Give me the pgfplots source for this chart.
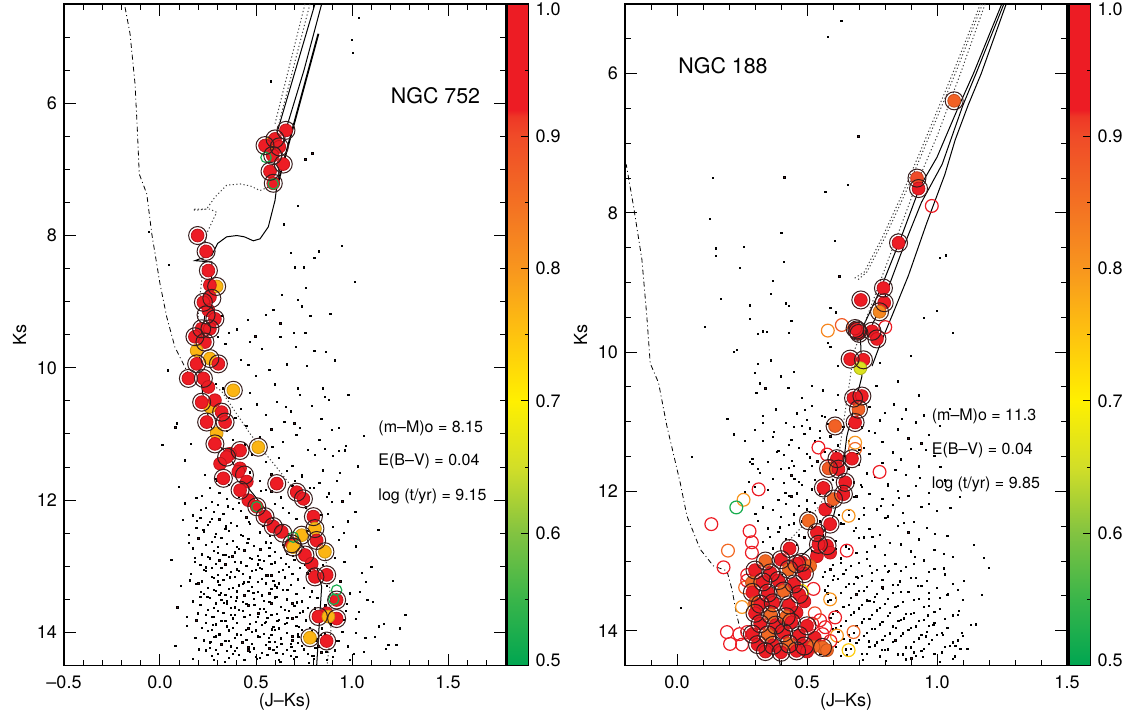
\documentclass[border=0pt]{standalone}
\usepackage{fontspec}
\setmainfont{TeX Gyre Heros}
\usepackage{pgfplots}
\pgfplotsset{compat=1.18}
\definecolor{dotc}{RGB}{95,20,25}
\definecolor{ringc}{RGB}{55,30,30}
\tikzset{anno/.style={anchor=west, font=\fontsize{8}{9.6}\selectfont}}
\pgfplotsset{
  cmd/.style={
    scale only axis, width=220.8pt, height=330.75pt,
    y dir=reverse, anchor=south west,
    tick align=inside, xtick pos=both, ytick pos=both,
    xticklabel pos=left, yticklabel pos=left,
    major tick length=6pt, minor tick length=3pt,
    every tick/.style={black, line width=0.5pt},
    axis line style={line width=0.8pt},
    tick label style={font=\fontsize{9}{10.8}\selectfont},
    xticklabel style={yshift=-1.5pt},
    every axis x label/.style={at={(axis description cs:0.5,-0.0547)}, anchor=center, font=\fontsize{9}{10.8}\selectfont},
    every axis y label/.style={at={(axis description cs:-0.1005,0.5)}, rotate=90, anchor=center, font=\fontsize{9}{10.8}\selectfont},
    xlabel={(J\textendash Ks)}, ylabel={Ks},
    colormap={memb}{rgb255(0cm)=(0,166,81) rgb255(1cm)=(57,181,74) rgb255(2cm)=(130,195,65) rgb255(3cm)=(210,222,40) rgb255(4cm)=(255,240,0) rgb255(5cm)=(254,195,15) rgb255(6cm)=(248,150,30) rgb255(7cm)=(243,112,35) rgb255(8cm)=(240,75,40) rgb255(8.3cm)=(238,55,38) rgb255(8.4cm)=(237,28,36) rgb255(10cm)=(237,28,36)},
    point meta min=0.5, point meta max=1.0,
    colorbar,
    colorbar style={
      at={(parent axis.north east)}, anchor=north west, xshift=-7.79pt,
      scale only axis, width=10.75pt, height=330.75pt,
      ytick={0.5,0.6,0.7,0.8,0.9,1.0},
      yticklabels={\smash{\raisebox{-0.45pt}{0.5}},0.6,0.7,0.8,0.9,\smash{\raisebox{-5.7pt}{1.0}}},
      minor ytick={0.55,0.65,0.75,0.85,0.95},
      ytick pos=right, yticklabel pos=right,
      tick align=inside, major tick length=4pt, minor tick length=2pt,
      every tick/.style={black, line width=0.5pt},
      axis line style={line width=0.8pt},
      yticklabel style={font=\fontsize{9}{10.8}\selectfont},
    },
  },
  dots/.style={only marks, mark=square*, mark size=0.32pt, mark options={draw=none, fill=dotc}},
  memb/.style={scatter, only marks, mark=*, mark size=3.2pt, point meta=explicit},
  ring/.style={only marks, mark=o, mark size=4.5pt, mark options={draw=ringc, line width=0.5pt}},
  oring/.style={scatter, only marks, mark=o, mark size=3.2pt, point meta=explicit, scatter/use mapped color={draw=mapped color, fill=none}, mark options={line width=0.6pt}},
  iso/.style={black, line width=0.5pt},
  isod/.style={black!75, line width=0.5pt, dash pattern=on 0.6pt off 1.2pt},
  isodd/.style={black, line width=0.4pt, dash pattern=on 2.5pt off 1.5pt on 0.5pt off 1.5pt},
}
\begin{document}
\begin{tikzpicture}
\useasboundingbox (0,0) rectangle (564.5pt,357.5pt);
% ================= LEFT: NGC 752 =================
\begin{axis}[cmd, at={(32pt,24.75pt)},
  xmin=-0.5, xmax=1.8, ymin=4.5, ymax=14.5,
  xtick={-0.5,0,0.5,1,1.5}, xticklabels={\textendash0.5,0.0,0.5,1.0,1.5},
  minor xtick={-0.4,-0.3,-0.2,-0.1,0.1,0.2,0.3,0.4,0.6,0.7,0.8,0.9,1.1,1.2,1.3,1.4,1.6,1.7},
  ytick={6,8,10,12,14}, yticklabels={6,8,10,12,14},
  minor ytick={5,5.5,6.5,7,7.5,8.5,9,9.5,10.5,11,11.5,12.5,13,13.5}]
\addplot[dots] table[row sep=\\]{x y\\
1.036 4.71\\ 0.999 5.04\\ 1.005 5.24\\ 0.577 5.67\\ 0.794 6.76\\ 0.757 6.85\\ 0.720 7.55\\ 0.645 7.83\\ 0.949 8.16\\ 0.683 8.26\\
0.828 8.24\\ 0.804 8.34\\ 0.701 8.48\\ 0.748 8.48\\ 1.014 8.70\\ 0.760 8.79\\ 0.636 8.90\\ 0.720 8.97\\ 0.738 9.07\\ 0.590 9.12\\
0.887 9.19\\ 0.459 9.28\\ 0.627 9.33\\ 0.696 9.47\\ 0.757 9.47\\ 0.357 9.47\\ 0.469 9.61\\ 0.627 9.53\\ 0.804 9.74\\ 0.863 9.76\\
-0.056 7.95\\ 0.045 8.44\\ 0.320 9.21\\ 0.300 9.53\\ 0.041 10.04\\ 0.013 11.16\\ 0.087 10.84\\ 0.329 10.31\\ 0.655 10.59\\ 0.720 10.31\\
0.859 10.44\\ 0.766 9.97\\ 0.850 10.31\\ 0.896 10.94\\ 0.962 11.25\\ 0.930 11.26\\ 0.860 11.23\\ 1.101 13.01\\ 1.073 13.24\\ 1.110 13.54\\
1.166 13.87\\ 1.250 13.94\\ 1.231 14.19\\ 1.036 13.69\\ 1.175 14.25\\ 0.896 12.03\\ 1.017 12.18\\
0.36 10.45\\ 0.42 10.62\\ 0.47 10.38\\ 0.55 10.71\\ 0.61 10.52\\ 0.68 10.66\\ 0.73 10.41\\ 0.79 10.58\\ 0.84 10.77\\ 0.88 10.49\\
0.93 10.91\\ 0.45 10.88\\ 0.52 11.05\\ 0.58 10.93\\ 0.64 11.12\\ 0.71 11.01\\ 0.77 11.24\\ 0.83 11.09\\ 0.90 11.33\\ 0.97 11.18\\
0.38 11.09\\ 0.48 11.31\\ 0.55 11.42\\ 0.62 11.36\\ 0.69 11.48\\ 0.74 11.62\\ 0.85 11.55\\ 0.92 11.71\\ 1.03 11.49\\ 0.42 9.88\\
0.50 10.12\\ 0.57 10.03\\ 0.34 9.64\\ 0.40 9.42\\ 0.46 9.96\\ 0.53 9.71\\ 0.66 9.95\\ 0.29 10.24\\ 0.60 10.25\\ 0.70 10.84\\
0.35 10.95\\ 0.80 11.82\\ 0.87 11.95\\ 0.99 11.90\\
0.08 10.90\\ 0.13 11.40\\ 0.10 11.80\\ 0.12 12.30\\ 0.06 12.90\\ 0.11 13.30\\ 0.14 13.90\\ 0.08 14.20\\ 0.17 14.40\\ 0.15 12.65\\ 0.13 12.05\\ 0.09 13.62\\ 0.16 11.15\\
0.33 11.63\\ 0.47 11.58\\ 0.58 11.61\\ 0.66 11.56\\ 0.74 11.64\\
0.29 11.68\\ 0.52 11.71\\ 0.61 11.66\\ 0.83 11.74\\
0.26 11.81\\ 0.36 11.77\\ 0.55 11.84\\ 0.69 11.79\\ 0.78 11.82\\
0.22 11.94\\ 0.31 11.89\\ 0.44 11.92\\ 0.58 11.87\\ 0.88 11.90\\
0.19 11.97\\ 0.27 12.03\\ 0.35 11.98\\ 0.41 12.04\\ 0.63 11.96\\ 0.72 12.01\\ 0.95 12.02\\
0.24 12.12\\ 0.30 12.07\\ 0.38 12.13\\ 0.47 12.09\\ 0.60 12.06\\ 0.76 12.11\\
0.17 12.23\\ 0.28 12.18\\ 0.33 12.21\\ 0.42 12.16\\ 0.55 12.24\\ 0.67 12.19\\ 0.84 12.22\\
0.21 12.27\\ 0.26 12.33\\ 0.31 12.29\\ 0.37 12.34\\ 0.45 12.26\\ 0.53 12.31\\ 0.71 12.28\\ 0.98 12.32\\
0.19 12.42\\ 0.25 12.37\\ 0.34 12.43\\ 0.40 12.39\\ 0.47 12.36\\ 0.58 12.44\\ 0.64 12.38\\ 0.90 12.41\\
0.15 12.53\\ 0.23 12.48\\ 0.29 12.51\\ 0.36 12.46\\ 0.43 12.54\\ 0.52 12.49\\ 0.61 12.52\\ 0.77 12.47\\
0.20 12.58\\ 0.27 12.63\\ 0.32 12.57\\ 0.38 12.62\\ 0.46 12.59\\ 0.55 12.64\\ 0.63 12.56\\ 0.68 12.61\\ 0.93 12.60\\
0.17 12.73\\ 0.24 12.68\\ 0.30 12.71\\ 0.35 12.66\\ 0.41 12.74\\ 0.49 12.69\\ 0.57 12.72\\ 0.82 12.67\\ 1.02 12.70\\
0.22 12.82\\ 0.28 12.77\\ 0.33 12.83\\ 0.39 12.79\\ 0.44 12.76\\ 0.51 12.84\\ 0.60 12.78\\ 0.66 12.81\\ 0.74 12.79\\
0.18 12.93\\ 0.26 12.88\\ 0.31 12.91\\ 0.36 12.86\\ 0.42 12.94\\ 0.48 12.89\\ 0.54 12.92\\ 0.63 12.87\\ 0.70 12.90\\ 0.96 12.93\\
0.21 12.98\\ 0.27 13.03\\ 0.34 12.97\\ 0.40 13.04\\ 0.45 12.99\\ 0.52 13.02\\ 0.58 12.96\\ 0.67 13.01\\ 0.73 13.03\\ 0.85 12.98\\
0.16 13.12\\ 0.24 13.07\\ 0.30 13.13\\ 0.37 13.08\\ 0.43 13.11\\ 0.50 13.06\\ 0.56 13.14\\ 0.62 13.09\\ 0.69 13.12\\ 0.78 13.07\\ 1.05 13.10\\
0.22 13.23\\ 0.28 13.18\\ 0.33 13.21\\ 0.39 13.16\\ 0.46 13.24\\ 0.53 13.19\\ 0.59 13.22\\ 0.65 13.17\\ 0.72 13.20\\ 0.94 13.23\\
0.19 13.27\\ 0.25 13.33\\ 0.31 13.28\\ 0.36 13.34\\ 0.41 13.29\\ 0.48 13.31\\ 0.55 13.26\\ 0.61 13.32\\ 0.68 13.28\\ 0.75 13.33\\ 0.87 13.30\\
0.23 13.42\\ 0.29 13.37\\ 0.34 13.43\\ 0.40 13.38\\ 0.44 13.44\\ 0.51 13.39\\ 0.57 13.41\\ 0.64 13.36\\ 0.71 13.42\\ 0.79 13.38\\ 0.99 13.41\\
0.17 13.53\\ 0.26 13.48\\ 0.32 13.51\\ 0.37 13.46\\ 0.43 13.54\\ 0.49 13.49\\ 0.54 13.52\\ 0.60 13.47\\ 0.66 13.50\\ 0.74 13.53\\ 0.82 13.48\\ 1.08 13.51\\
0.21 13.58\\ 0.28 13.63\\ 0.35 13.57\\ 0.39 13.62\\ 0.46 13.59\\ 0.52 13.64\\ 0.58 13.56\\ 0.63 13.61\\ 0.70 13.60\\ 0.77 13.63\\ 0.91 13.58\\
0.24 13.73\\ 0.30 13.68\\ 0.33 13.71\\ 0.41 13.66\\ 0.47 13.74\\ 0.55 13.69\\ 0.61 13.72\\ 0.67 13.67\\ 0.73 13.70\\ 0.80 13.73\\ 0.97 13.68\\
0.19 13.82\\ 0.27 13.77\\ 0.32 13.83\\ 0.38 13.79\\ 0.44 13.76\\ 0.50 13.84\\ 0.56 13.78\\ 0.62 13.81\\ 0.69 13.79\\ 0.76 13.82\\ 0.84 13.77\\ 1.02 13.80\\
0.22 13.93\\ 0.29 13.88\\ 0.35 13.91\\ 0.40 13.86\\ 0.46 13.94\\ 0.53 13.89\\ 0.59 13.92\\ 0.65 13.87\\ 0.71 13.90\\ 0.78 13.93\\ 0.89 13.88\\ 1.14 13.91\\
0.25 13.98\\ 0.31 14.03\\ 0.36 13.97\\ 0.42 14.04\\ 0.48 13.99\\ 0.54 14.02\\ 0.60 13.96\\ 0.66 14.01\\ 0.72 14.03\\ 0.79 13.98\\ 0.86 14.02\\ 0.95 13.99\\
0.23 14.12\\ 0.28 14.07\\ 0.34 14.13\\ 0.39 14.08\\ 0.45 14.11\\ 0.51 14.06\\ 0.57 14.14\\ 0.63 14.09\\ 0.69 14.12\\ 0.75 14.07\\ 0.82 14.10\\ 0.92 14.13\\ 1.07 14.08\\
0.26 14.23\\ 0.32 14.18\\ 0.37 14.21\\ 0.43 14.16\\ 0.49 14.24\\ 0.55 14.19\\ 0.61 14.22\\ 0.68 14.17\\ 0.74 14.20\\ 0.81 14.23\\ 0.88 14.18\\ 0.98 14.21\\ 1.19 14.19\\
0.24 14.27\\ 0.30 14.33\\ 0.35 14.28\\ 0.41 14.34\\ 0.47 14.29\\ 0.53 14.31\\ 0.59 14.26\\ 0.64 14.32\\ 0.70 14.28\\ 0.77 14.33\\ 0.84 14.30\\ 0.91 14.27\\ 1.01 14.32\\
0.28 14.41\\ 0.36 14.38\\ 0.44 14.42\\ 0.52 14.39\\ 0.62 14.41\\ 0.71 14.37\\ 0.80 14.40\\ 0.87 14.42\\
0.25 12.86\\ 0.34 12.83\\ 0.47 12.87\\ 0.57 12.84\\
0.29 12.96\\ 0.39 12.93\\ 0.51 12.97\\ 0.60 12.94\\
0.23 13.06\\ 0.32 13.03\\ 0.41 13.07\\ 0.53 13.04\\ 0.64 13.06\\
0.27 13.16\\ 0.35 13.13\\ 0.47 13.17\\ 0.58 13.14\\
0.20 13.26\\ 0.30 13.23\\ 0.43 13.27\\ 0.51 13.24\\ 0.62 13.26\\
0.28 13.36\\ 0.38 13.33\\ 0.46 13.37\\ 0.58 13.34\\ 0.66 13.36\\
0.21 13.46\\ 0.31 13.43\\ 0.40 13.47\\ 0.53 13.44\\ 0.61 13.46\\
0.29 13.56\\ 0.35 13.53\\ 0.45 13.57\\ 0.57 13.54\\ 0.69 13.56\\
0.25 13.66\\ 0.37 13.63\\ 0.43 13.67\\ 0.54 13.64\\ 0.65 13.66\\
0.28 13.76\\ 0.39 13.73\\ 0.51 13.77\\ 0.58 13.74\\ 0.71 13.76\\
0.24 13.86\\ 0.34 13.83\\ 0.47 13.87\\ 0.55 13.84\\ 0.66 13.86\\
0.27 13.96\\ 0.38 13.93\\ 0.50 13.97\\ 0.62 13.94\\ 0.74 13.96\\
0.29 14.06\\ 0.40 14.03\\ 0.52 14.07\\ 0.58 14.04\\ 0.69 14.06\\
0.26 14.16\\ 0.36 14.13\\ 0.48 14.17\\ 0.60 14.14\\ 0.72 14.16\\
0.29 14.26\\ 0.40 14.23\\ 0.46 14.27\\ 0.57 14.24\\ 0.66 14.26\\
0.27 14.36\\ 0.38 14.33\\ 0.50 14.37\\ 0.56 14.34\\ 0.68 14.36\\ 0.79 14.35\\
0.213 12.147\\ 0.287 12.561\\ 0.352 12.094\\ 0.401 12.712\\ 0.463 12.333\\ 0.518 12.908\\ 0.577 12.652\\ 0.239 13.018\\ 0.318 13.402\\ 0.377 12.851\\
0.436 13.245\\ 0.492 13.589\\ 0.553 13.137\\ 0.611 13.823\\ 0.668 13.355\\ 0.724 13.912\\ 0.781 13.467\\ 0.837 14.034\\ 0.198 13.711\\ 0.262 14.139\\
0.331 13.556\\ 0.389 14.278\\ 0.447 13.961\\ 0.506 14.397\\ 0.569 14.081\\ 0.627 14.446\\ 0.684 14.219\\ 0.743 13.684\\ 0.802 14.356\\ 0.861 13.593\\
0.226 12.449\\ 0.301 12.798\\ 0.364 13.167\\ 0.421 12.523\\ 0.478 13.074\\ 0.539 12.385\\ 0.597 13.291\\ 0.655 12.962\\ 0.712 13.548\\ 0.768 13.106\\
0.825 14.213\\ 0.184 14.087\\ 0.247 13.464\\ 0.309 14.018\\ 0.368 13.739\\ 0.429 14.152\\ 0.487 13.402\\ 0.548 13.857\\ 0.606 14.311\\ 0.663 13.779\\
0.721 14.064\\ 0.776 14.463\\ 0.843 13.941\\ 0.902 14.367\\ 0.958 13.812\\ 1.021 14.012\\ 0.183 12.871\\ 0.271 12.289\\ 0.342 12.398\\ 0.395 13.521\\
0.455 12.645\\ 0.512 13.712\\ 0.571 12.536\\ 0.633 14.172\\ 0.692 12.847\\ 0.748 14.255\\ 0.807 13.638\\ 0.866 14.289\\ 0.213 13.389\\ 0.274 13.881\\
0.339 14.441\\ 0.402 13.049\\ 0.461 14.226\\ 0.523 12.743\\ 0.583 13.956\\ 0.641 12.681\\ 0.698 14.401\\ 0.755 12.979\\ 0.812 14.122\\ 0.297 11.713\\
0.412 11.954\\ 0.526 11.862\\ 0.641 12.117\\ 0.701 11.708\\ 0.232 11.622\\ 0.191 12.312\\ 0.154 13.214\\ 0.139 13.768\\ 0.201 14.256\\ 0.933 14.124\\
0.989 14.412\\ 1.061 14.293\\ 1.121 14.066\\ 0.972 13.571\\ 1.042 13.389\\ 0.912 12.877\\ 0.957 12.493\\ 0.873 12.211\\ 0.938 11.592\\ 0.806 11.311\\
0.727 10.903\\ 0.648 10.818\\ 0.585 11.192\\ 0.503 10.551\\ 0.442 11.158\\ 0.393 10.757\\ 0.497 9.523\\ 0.552 9.204\\ 0.708 9.681\\ 0.784 9.218\\
0.911 9.887\\ 0.981 10.411\\ 1.061 11.028\\ 1.138 12.447\\ 1.213 13.218\\ 1.278 13.739\\
};
\addplot[memb] table[row sep=\\, x=x, y=y, meta=m]{x y m\\
0.582 6.59 0.765\\ 0.656 6.41 0.96\\ 0.599 6.54 0.96\\ 0.547 6.64 0.96\\ 0.621 6.66 0.96\\ 0.587 6.79 0.96\\ 0.642 6.92 0.96\\ 0.573 7.03 0.96\\ 0.590 7.21 0.96\\
0.196 8.00 0.96\\ 0.240 8.24 0.96\\ 0.295 8.77 0.765\\ 0.252 8.53 0.96\\ 0.260 8.75 0.96\\ 0.260 8.93 0.96\\ 0.226 9.01 0.96\\ 0.252 9.13 0.96\\ 0.286 9.26 0.96\\
0.217 9.41 0.96\\ 0.260 9.41 0.96\\ 0.182 9.53 0.96\\ 0.234 9.61 0.96\\ 0.191 9.74 0.765\\ 0.260 9.86 0.765\\ 0.304 9.94 0.96\\ 0.191 9.94 0.96\\ 0.148 10.16 0.96\\
0.226 10.16 0.96\\ 0.252 10.29 0.96\\ 0.382 10.34 0.765\\ 0.260 10.59 0.765\\ 0.217 10.52 0.96\\ 0.286 10.49 0.96\\ 0.321 10.67 0.96\\ 0.243 10.82 0.96\\ 0.339 10.82 0.96\\
0.295 10.99 0.765\\ 0.286 11.15 0.96\\ 0.512 11.20 0.765\\ 0.417 11.25 0.96\\ 0.365 11.30 0.96\\ 0.347 11.35 0.96\\ 0.313 11.45 0.96\\ 0.417 11.52 0.96\\ 0.408 11.57 0.96\\
0.330 11.67 0.96\\ 0.452 11.72 0.96\\ 0.608 11.75 0.96\\ 0.417 11.85 0.96\\ 0.460 12.00 0.96\\ 0.712 11.88 0.96\\ 0.747 11.98 0.96\\ 0.504 12.10 0.96\\ 0.547 12.25 0.96\\
0.590 12.40 0.96\\ 0.634 12.48 0.96\\ 0.799 12.25 0.96\\ 0.807 12.43 0.765\\ 0.738 12.53 0.765\\ 0.816 12.61 0.96\\ 0.686 12.66 0.96\\ 0.694 12.71 0.765\\ 0.755 12.83 0.96\\
0.859 12.78 0.765\\ 0.790 12.96 0.96\\ 0.807 13.16 0.96\\ 0.868 13.13 0.96\\ 0.920 13.51 0.96\\ 0.868 13.71 0.96\\ 0.825 13.76 0.96\\ 0.920 13.79 0.96\\ 0.877 13.76 0.765\\
0.781 14.08 0.765\\ 0.868 14.13 0.96\\
};
\addplot[oring, mark size=2.6pt] table[row sep=\\, x=x, y=y, meta=m]{x y m\\
0.552 6.82 0.52\\ 0.590 7.22 0.52\\ 0.504 12.10 0.52\\ 0.694 12.56 0.52\\ 0.920 13.36 0.52\\ 0.905 13.50 0.52\\
};
\addplot[ring] table[row sep=\\]{x y\\
0.656 6.41\\ 0.599 6.54\\ 0.547 6.64\\ 0.621 6.66\\ 0.587 6.79\\ 0.642 6.92\\ 0.573 7.03\\ 0.590 7.21\\ 0.196 8.00\\ 0.240 8.24\\
0.252 8.53\\ 0.295 8.77\\ 0.226 9.01\\ 0.286 9.26\\ 0.217 9.41\\ 0.260 9.41\\ 0.182 9.53\\ 0.234 9.61\\ 0.260 9.86\\ 0.304 9.94\\
0.191 9.94\\ 0.148 10.16\\ 0.226 10.16\\ 0.382 10.34\\ 0.217 10.52\\ 0.321 10.67\\ 0.243 10.82\\ 0.339 10.82\\ 0.286 11.15\\ 0.512 11.20\\
0.417 11.25\\ 0.347 11.35\\ 0.330 11.67\\ 0.608 11.75\\ 0.417 11.85\\ 0.712 11.88\\ 0.747 11.98\\ 0.504 12.10\\ 0.547 12.25\\ 0.590 12.40\\
0.799 12.25\\ 0.807 12.43\\ 0.738 12.53\\ 0.816 12.61\\ 0.686 12.66\\ 0.694 12.71\\ 0.755 12.83\\ 0.859 12.78\\ 0.807 13.16\\ 0.868 13.13\\
0.920 13.51\\ 0.825 13.76\\ 0.920 13.79\\ 0.781 14.08\\ 0.868 14.13\\ 0.27 8.95\\ 0.24 9.20\\ 0.44 11.62\\ 0.64 12.50\\
};
% isochrones
\addplot[iso] table[row sep=\\]{x y\\
0.842 4.50\\ 0.75 5.50\\ 0.66 6.36\\ 0.611 7.19\\ 0.599 7.47\\ 0.564 7.87\\ 0.521 8.05\\ 0.486 8.08\\ 0.44 8.02\\ 0.40 8.00\\ 0.347 8.02\\ 0.30 8.12\\
0.269 8.30\\ 0.20 8.36\\ 0.182 8.38\\ 0.27 8.40\\ 0.269 8.63\\ 0.243 9.03\\ 0.217 9.53\\ 0.200 9.99\\ 0.226 10.44\\ 0.252 10.74\\ 0.295 11.15\\
0.347 11.28\\ 0.382 11.45\\ 0.469 11.85\\ 0.608 12.35\\ 0.746 12.71\\ 0.816 13.01\\ 0.842 13.31\\ 0.833 13.71\\ 0.816 14.50\\
};
\addplot[iso] table[row sep=\\]{x y\\ 0.807 4.50\\ 0.608 6.46\\};
\addplot[black, line width=0.9pt] table[row sep=\\]{x y\\ 0.825 4.95\\ 0.616 7.19\\};
\addplot[isod] table[row sep=\\]{x y\\ 0.755 4.50\\ 0.599 6.31\\};
\addplot[isod] table[row sep=\\]{x y\\ 0.781 4.50\\ 0.62 6.30\\};
\addplot[isod] table[row sep=\\]{x y\\
0.58 7.25\\ 0.521 7.32\\ 0.47 7.25\\ 0.417 7.22\\ 0.347 7.24\\ 0.286 7.42\\ 0.243 7.60\\ 0.182 7.62\\ 0.172 7.60\\ 0.26 7.60\\ 0.295 7.65\\ 0.27 7.80\\
0.243 7.97\\ 0.23 8.20\\ 0.22 8.60\\ 0.205 9.00\\ 0.19 9.50\\ 0.19 9.90\\ 0.24 10.20\\ 0.32 10.35\\ 0.40 10.70\\ 0.47 11.00\\ 0.55 11.30\\ 0.62 11.55\\
0.70 11.85\\ 0.78 12.20\\ 0.84 12.60\\ 0.87 13.00\\ 0.89 13.50\\ 0.89 14.00\\ 0.87 14.50\\
};
\addplot[isodd] table[row sep=\\]{x y\\
-0.182 4.55\\ -0.156 4.95\\ -0.13 5.71\\ -0.118 6.40\\ -0.108 7.07\\ -0.069 7.37\\ -0.043 7.97\\ 0.0 8.73\\ 0.035 9.23\\ 0.078 9.69\\ 0.13 9.99\\ 0.16 10.15\\
};
\node[font=\fontsize{10.7}{12.8}\selectfont] at (axis cs:1.435,5.88) {NGC 752};
\node[anno] at (axis cs:1.101,10.92) {(m\textendash M)o = 8.15};
\node[anno] at (axis cs:1.101,11.42) {E(B\textendash V) = 0.04};
\node[anno] at (axis cs:1.101,11.94) {log (t/yr) = 9.15};
\end{axis}
% ================= RIGHT: NGC 188 =================
\begin{axis}[cmd, at={(312.5pt,24.75pt)}, width=221pt,
  xmin=-0.2, xmax=1.5, ymin=5, ymax=14.5,
  colorbar style={xshift=0.25pt},
  xtick={0,0.5,1,1.5}, xticklabels={0.0,0.5,1.0,1.5},
  minor xtick={-0.1,0.1,0.2,0.3,0.4,0.6,0.7,0.8,0.9,1.1,1.2,1.3,1.4},
  ytick={6,8,10,12,14}, yticklabels={6,8,10,12,14},
  minor ytick={5.5,6.5,7,7.5,8.5,9,9.5,10.5,11,11.5,12.5,13,13.5}]
\addplot[dots] table[row sep=\\]{x y\\
0.632 5.24\\ 0.579 5.47\\ 0.698 6.90\\ 0.137 7.50\\ 0.413 7.49\\ 0.657 7.60\\ 0.571 7.70\\ 0.127 8.09\\ 0.402 8.29\\ 0.607 8.40\\
0.258 8.49\\ 0.150 8.51\\ 0.150 8.62\\ 1.033 8.61\\ 1.010 8.65\\ 0.242 8.79\\ 0.410 8.70\\ 0.625 8.91\\ 0.370 8.98\\ 0.360 9.16\\
0.170 9.23\\ 0.420 9.30\\ 0.430 9.34\\ 0.280 9.33\\ 1.000 9.41\\ 0.590 9.36\\ 0.610 9.43\\ 0.280 9.52\\ 0.440 9.55\\ 0.108 9.64\\
0.330 9.70\\ 0.345 9.71\\ 0.430 9.72\\ 0.950 9.51\\ 1.060 9.72\\ 0.230 9.97\\ 0.220 10.00\\ 0.580 9.87\\ 0.590 9.92\\ 0.310 9.74\\
0.310 10.17\\ 0.300 10.30\\ 0.320 10.45\\ 0.340 10.52\\ 0.305 10.58\\ 0.194 10.96\\ 0.220 11.18\\ 0.260 11.27\\ 0.280 11.58\\ 0.290 11.60\\
0.310 11.68\\ 0.057 11.50\\ 0.015 13.67\\ 0.36 10.12\\ 0.40 10.35\\ 0.45 10.28\\ 0.52 10.48\\ 0.48 10.66\\ 0.56 10.55\\ 0.78 10.15\\
0.85 10.42\\ 0.93 10.62\\ 1.05 10.81\\ 0.90 10.05\\ 0.62 10.20\\ 1.18 12.95\\ 1.20 13.10\\
0.38 10.82\\ 0.52 10.77\\ 0.61 10.83\\ 0.74 10.79\\ 0.88 10.82\\
0.33 10.92\\ 0.46 10.88\\ 0.57 10.93\\ 0.80 10.87\\ 0.95 10.91\\
0.42 11.02\\ 0.50 10.97\\ 0.66 11.03\\ 0.78 10.98\\ 0.92 11.01\\
0.30 11.12\\ 0.45 11.07\\ 0.55 11.13\\ 0.71 11.08\\ 0.85 11.11\\ 1.01 11.06\\
0.37 11.22\\ 0.49 11.17\\ 0.59 11.21\\ 0.76 11.16\\ 0.89 11.24\\ 0.97 11.19\\
0.33 11.27\\ 0.43 11.33\\ 0.53 11.28\\ 0.62 11.34\\ 0.79 11.29\\ 0.94 11.31\\
0.39 11.42\\ 0.47 11.37\\ 0.57 11.43\\ 0.72 11.38\\ 0.83 11.44\\ 0.90 11.39\\
0.29 11.53\\ 0.41 11.48\\ 0.51 11.51\\ 0.74 11.46\\ 0.86 11.54\\ 0.99 11.49\\
0.35 11.58\\ 0.45 11.63\\ 0.54 11.57\\ 0.70 11.62\\ 0.79 11.59\\ 0.93 11.64\\
0.32 11.73\\ 0.40 11.68\\ 0.49 11.71\\ 0.58 11.66\\ 0.73 11.74\\ 0.84 11.69\\
0.37 11.82\\ 0.44 11.77\\ 0.53 11.83\\ 0.76 11.79\\ 0.88 11.76\\ 1.03 11.84\\
0.30 11.93\\ 0.41 11.88\\ 0.48 11.91\\ 0.56 11.86\\ 0.71 11.94\\ 0.81 11.89\\ 0.92 11.92\\
0.35 11.98\\ 0.46 12.03\\ 0.52 11.97\\ 0.74 12.04\\ 0.85 11.99\\ 0.97 12.02\\
0.39 12.12\\ 0.44 12.07\\ 0.50 12.13\\ 0.68 12.08\\ 0.79 12.11\\ 0.89 12.06\\
0.33 12.23\\ 0.42 12.18\\ 0.47 12.21\\ 0.53 12.16\\ 0.72 12.24\\ 0.83 12.19\\ 0.94 12.22\\
0.37 12.27\\ 0.45 12.33\\ 0.51 12.29\\ 0.66 12.34\\ 0.77 12.26\\ 0.87 12.31\\ 1.00 12.28\\
0.31 12.42\\ 0.40 12.37\\ 0.48 12.43\\ 0.70 12.39\\ 0.81 12.36\\ 0.91 12.44\\
0.35 12.53\\ 0.43 12.48\\ 0.52 12.51\\ 0.63 12.46\\ 0.74 12.54\\ 0.85 12.49\\ 0.96 12.52\\
0.39 12.58\\ 0.47 12.63\\ 0.68 12.57\\ 0.78 12.62\\ 0.89 12.59\\ 1.04 12.64\\
0.33 12.73\\ 0.42 12.68\\ 0.61 12.71\\ 0.72 12.66\\ 0.82 12.74\\ 0.93 12.69\\
0.37 12.82\\ 0.46 12.77\\ 0.66 12.83\\ 0.76 12.79\\ 0.86 12.76\\ 0.99 12.84\\
0.58 12.93\\ 0.69 12.88\\ 0.80 12.91\\ 0.90 12.86\\ 1.06 12.94\\
0.55 12.98\\ 0.63 13.03\\ 0.73 12.97\\ 0.84 13.04\\ 0.95 12.99\\
0.59 13.12\\ 0.67 13.07\\ 0.77 13.13\\ 0.88 13.08\\ 0.99 13.11\\
0.56 13.23\\ 0.64 13.18\\ 0.71 13.21\\ 0.81 13.16\\ 0.92 13.24\\ 1.03 13.19\\
0.60 13.27\\ 0.68 13.33\\ 0.75 13.28\\ 0.85 13.34\\ 0.96 13.29\\
0.57 13.42\\ 0.65 13.37\\ 0.72 13.43\\ 0.79 13.38\\ 0.89 13.44\\ 1.00 13.39\\ 1.08 13.41\\
0.61 13.53\\ 0.69 13.48\\ 0.76 13.51\\ 0.83 13.46\\ 0.93 13.54\\ 1.04 13.49\\
0.58 13.58\\ 0.66 13.63\\ 0.73 13.57\\ 0.80 13.62\\ 0.87 13.59\\ 0.97 13.64\\ 1.10 13.56\\
0.62 13.73\\ 0.70 13.68\\ 0.77 13.71\\ 0.84 13.66\\ 0.91 13.74\\ 1.01 13.69\\
0.59 13.82\\ 0.67 13.77\\ 0.74 13.83\\ 0.81 13.79\\ 0.88 13.76\\ 0.95 13.84\\ 1.06 13.78\\
0.63 13.93\\ 0.71 13.88\\ 0.78 13.91\\ 0.85 13.86\\ 0.92 13.94\\ 0.99 13.89\\ 1.13 13.92\\
0.60 13.98\\ 0.68 14.03\\ 0.75 13.97\\ 0.82 14.04\\ 0.89 13.99\\ 0.96 14.02\\ 1.04 13.96\\
0.64 14.12\\ 0.72 14.07\\ 0.79 14.13\\ 0.86 14.08\\ 0.93 14.11\\ 1.00 14.06\\ 1.08 14.14\\
0.61 14.23\\ 0.69 14.18\\ 0.76 14.21\\ 0.83 14.16\\ 0.90 14.24\\ 0.97 14.19\\ 1.05 14.22\\
0.65 14.27\\ 0.73 14.33\\ 0.80 14.28\\ 0.87 14.34\\ 0.94 14.29\\ 1.02 14.31\\ 1.09 14.26\\
0.60 13.06\\ 0.70 13.03\\ 0.80 13.07\\ 0.91 13.04\\
0.57 13.16\\ 0.65 13.13\\ 0.75 13.17\\ 0.86 13.14\\ 0.97 13.16\\
0.62 13.26\\ 0.69 13.23\\ 0.79 13.27\\ 0.90 13.24\\
0.58 13.36\\ 0.66 13.33\\ 0.73 13.37\\ 0.83 13.34\\ 0.94 13.36\\ 1.06 13.33\\
0.63 13.46\\ 0.70 13.43\\ 0.77 13.47\\ 0.86 13.44\\ 0.97 13.46\\
0.59 13.56\\ 0.67 13.53\\ 0.74 13.57\\ 0.81 13.54\\ 0.91 13.56\\ 1.01 13.53\\
0.64 13.66\\ 0.71 13.63\\ 0.78 13.67\\ 0.85 13.64\\ 0.95 13.66\\
0.60 13.76\\ 0.68 13.73\\ 0.75 13.77\\ 0.82 13.74\\ 0.90 13.76\\ 0.99 13.73\\ 1.08 13.77\\
0.65 13.86\\ 0.72 13.83\\ 0.79 13.87\\ 0.86 13.84\\ 0.93 13.86\\ 1.03 13.83\\
0.61 13.96\\ 0.69 13.93\\ 0.76 13.97\\ 0.83 13.94\\ 0.90 13.96\\ 0.97 13.93\\
0.66 14.06\\ 0.73 14.03\\ 0.80 14.07\\ 0.87 14.04\\ 0.94 14.06\\ 1.02 14.03\\ 1.10 14.07\\
0.62 14.16\\ 0.70 14.13\\ 0.77 14.17\\ 0.84 14.14\\ 0.91 14.16\\ 0.98 14.13\\ 1.06 14.17\\
0.67 14.26\\ 0.74 14.23\\ 0.81 14.27\\ 0.88 14.24\\ 0.95 14.26\\ 1.03 14.23\\
0.63 14.36\\ 0.71 14.33\\ 0.78 14.37\\ 0.85 14.34\\ 0.92 14.36\\ 0.99 14.33\\ 1.07 14.37\\
0.48 11.06\\ 0.58 11.03\\ 0.64 11.07\\
0.44 11.26\\ 0.55 11.23\\ 0.66 11.27\\
0.50 11.46\\ 0.61 11.43\\ 0.69 11.47\\
0.43 11.66\\ 0.52 11.63\\ 0.66 11.67\\
0.47 11.86\\ 0.60 11.83\\ 0.68 11.87\\
0.43 12.06\\ 0.55 12.03\\ 0.69 12.07\\
0.50 12.26\\ 0.58 12.23\\ 0.66 12.27\\
0.45 12.46\\ 0.55 12.43\\ 0.64 12.47\\
0.49 12.66\\ 0.56 12.63\\ 0.70 12.67\\
0.52 12.86\\ 0.61 12.83\\ 0.73 12.87\\
0.372 11.147\\ 0.443 11.561\\ 0.511 11.094\\ 0.568 11.712\\ 0.623 12.333\\ 0.702 11.408\\ 0.751 12.652\\ 0.812 11.918\\ 0.873 12.451\\ 0.934 11.802\\
0.991 12.612\\ 1.052 12.233\\ 0.417 12.018\\ 0.486 12.402\\ 0.356 12.651\\ 0.649 12.789\\ 0.697 13.245\\ 0.758 13.589\\ 0.814 13.137\\ 0.872 13.823\\
0.927 13.355\\ 0.986 13.912\\ 1.041 13.467\\ 1.097 14.034\\ 0.613 13.711\\ 0.664 14.139\\ 0.729 13.556\\ 0.789 14.278\\ 0.843 13.961\\ 0.902 14.397\\
0.957 14.081\\ 1.012 14.446\\ 1.071 14.219\\ 0.631 12.962\\ 0.688 12.523\\ 0.742 13.074\\ 0.801 12.385\\ 0.857 13.291\\ 0.916 12.942\\ 0.969 13.548\\
1.026 13.106\\ 1.083 13.712\\ 0.578 13.464\\ 0.621 14.018\\ 0.679 13.739\\ 0.737 14.152\\ 0.793 13.402\\ 0.852 13.857\\ 0.911 14.311\\ 0.966 13.779\\
1.023 14.064\\ 1.117 14.263\\ 0.598 12.201\\ 0.547 12.618\\ 0.452 11.823\\ 0.384 11.432\\ 0.329 11.012\\ 0.276 11.859\\ 0.301 12.327\\ 0.345 12.946\\
0.395 12.517\\ 0.262 12.014\\ 0.557 10.912\\ 0.671 10.733\\ 0.739 11.126\\ 0.866 10.956\\ 0.957 11.401\\ 1.013 11.652\\ 1.089 12.078\\ 1.141 12.772\\
1.172 13.487\\ 0.618 10.618\\ 0.492 10.827\\ 0.428 10.517\\ 0.767 10.489\\ 0.835 10.752\\ 0.708 11.902\\ 0.783 12.209\\ 0.853 12.088\\ 0.969 12.181\\
1.027 12.893\\ 1.103 13.288\\ 1.149 13.911\\ 0.654 14.352\\ 0.715 14.421\\ 0.803 14.439\\ 0.879 14.412\\ 0.946 14.376\\ 1.061 14.403\\ 0.552 14.331\\
0.604 13.217\\ 0.718 12.341\\
};
\addplot[oring] table[row sep=\\, x=x, y=y, meta=m]{x y m\\
0.980 7.90 0.95\\ 0.634 9.61 0.88\\ 0.580 9.69 0.82\\ 0.801 9.64 0.95\\ 0.685 11.30 0.80\\ 0.685 11.39 0.86\\ 0.544 11.37 0.95\\ 0.577 11.47 0.95\\
0.779 11.72 0.95\\ 0.314 11.97 0.95\\ 0.256 12.12 0.80\\ 0.228 12.23 0.52\\ 0.132 12.47 0.95\\ 0.279 12.57 0.95\\ 0.660 12.35 0.80\\ 0.288 12.73 0.95\\
0.196 12.85 0.86\\ 0.288 12.88 0.95\\ 0.653 12.85 0.95\\ 0.179 13.09 0.95\\ 0.262 13.38 0.86\\ 0.250 13.66 0.80\\ 0.192 14.02 0.95\\ 0.204 14.19 0.95\\
0.24 14.05 0.95\\ 0.25 14.20 0.95\\ 0.27 14.02 0.93\\ 0.525 13.40 0.95\\ 0.589 13.55 0.80\\ 0.608 13.81 0.95\\ 0.615 14.07 0.80\\ 0.679 14.02 0.86\\
0.660 14.28 0.74\\ 0.48 13.43 0.70\\ 0.55 13.85 0.95\\ 0.57 13.95 0.93\\ 0.52 13.90 0.95\\ 0.56 14.05 0.95\\ 0.53 13.75 0.90\\ 0.59 14.15 0.95\\
0.27 13.20 0.95\\ 0.27 13.28 0.93\\
};
\addplot[memb] table[row sep=\\, x=x, y=y, meta=m]{x y m\\
1.066 6.39 0.87\\ 0.923 7.50 0.90\\ 0.929 7.65 0.95\\ 0.852 8.43 0.95\\ 0.794 9.08 0.95\\ 0.707 9.25 0.95\\ 0.797 9.29 0.95\\ 0.779 9.42 0.82\\
0.692 9.68 0.95\\ 0.700 9.73 0.95\\ 0.685 9.66 0.95\\ 0.750 9.70 0.95\\ 0.769 9.81 0.95\\ 0.666 10.10 0.95\\ 0.717 10.11 0.95\\ 0.705 10.23 0.66\\
0.679 10.66 0.95\\ 0.711 10.63 0.95\\ 0.698 10.82 0.87\\ 0.608 11.06 0.87\\ 0.685 11.01 0.95\\ 0.615 11.53 0.95\\ 0.673 11.53 0.95\\ 0.583 11.67 0.88\\
0.621 11.68 0.95\\ 0.647 11.87 0.95\\ 0.563 11.95 0.95\\ 0.602 12.11 0.87\\ 0.640 12.04 0.95\\ 0.570 12.26 0.95\\ 0.506 12.42 0.86\\ 0.589 12.47 0.95\\
0.538 12.59 0.95\\ 0.577 12.78 0.95\\ 0.544 12.76 0.95\\ 0.433 12.82 0.95\\ 0.538 12.93 0.95\\ 0.589 12.88 0.95\\ 0.480 13.02 0.95\\ 0.512 13.07 0.86\\
0.34 13.00 0.86\\ 0.40 12.98 0.95\\ 0.46 13.04 0.95\\ 0.30 13.13 0.95\\ 0.36 13.17 0.95\\ 0.43 13.12 0.86\\ 0.49 13.18 0.95\\ 0.288 13.31 0.86\\
0.33 13.30 0.95\\ 0.39 13.28 0.95\\ 0.45 13.33 0.95\\ 0.29 13.45 0.95\\ 0.35 13.46 0.95\\ 0.41 13.43 0.86\\ 0.47 13.48 0.95\\ 0.30 13.60 0.86\\
0.32 13.62 0.95\\ 0.37 13.60 0.95\\ 0.43 13.63 0.95\\ 0.49 13.58 0.95\\ 0.30 13.75 0.95\\ 0.36 13.77 0.86\\ 0.42 13.80 0.86\\ 0.46 13.74 0.95\\
0.32 13.90 0.95\\ 0.38 13.92 0.95\\ 0.44 13.88 0.95\\ 0.50 13.93 0.95\\ 0.29 14.05 0.95\\ 0.35 14.06 0.86\\ 0.41 14.03 0.95\\ 0.47 14.07 0.95\\
0.53 14.10 0.95\\ 0.31 14.20 0.95\\ 0.37 14.21 0.95\\ 0.43 14.19 0.86\\ 0.49 14.22 0.95\\ 0.56 14.24 0.86\\ 0.34 14.30 0.95\\ 0.40 14.31 0.95\\
0.46 14.29 0.95\\ 0.525 14.23 0.86\\ 0.577 14.28 0.86\\ 0.50 14.30 0.95\\
};
\addplot[ring] table[row sep=\\]{x y\\
1.066 6.39\\ 0.923 7.50\\ 0.929 7.65\\ 0.852 8.43\\ 0.794 9.08\\ 0.707 9.25\\ 0.797 9.29\\ 0.779 9.42\\ 0.692 9.68\\ 0.700 9.73\\
0.685 9.66\\ 0.695 9.70\\ 0.750 9.70\\ 0.769 9.81\\ 0.666 10.10\\ 0.717 10.11\\ 0.679 10.66\\ 0.711 10.63\\ 0.698 10.82\\ 0.608 11.06\\
0.685 11.01\\ 0.615 11.53\\ 0.673 11.53\\ 0.583 11.67\\ 0.621 11.68\\ 0.647 11.87\\ 0.563 11.95\\ 0.602 12.11\\ 0.640 12.04\\ 0.506 12.42\\
0.589 12.47\\ 0.538 12.59\\ 0.577 12.78\\ 0.544 12.76\\ 0.433 12.82\\ 0.480 13.02\\
0.34 13.00\\ 0.40 12.98\\ 0.46 13.04\\ 0.30 13.13\\ 0.36 13.17\\ 0.43 13.12\\ 0.49 13.18\\ 0.33 13.30\\ 0.39 13.28\\ 0.45 13.33\\
0.29 13.45\\ 0.35 13.46\\ 0.41 13.43\\ 0.47 13.48\\ 0.32 13.62\\ 0.37 13.60\\ 0.43 13.63\\ 0.30 13.75\\ 0.36 13.77\\ 0.42 13.80\\
0.32 13.90\\ 0.38 13.92\\ 0.44 13.88\\ 0.50 13.93\\ 0.29 14.05\\ 0.35 14.06\\ 0.41 14.03\\ 0.47 14.07\\ 0.31 14.20\\ 0.37 14.21\\
0.43 14.19\\ 0.49 14.22\\ 0.56 14.24\\ 0.34 14.30\\ 0.40 14.31\\ 0.46 14.29\\
};
% isochrones
\addplot[iso] table[row sep=\\]{x y\\
1.249 5.00\\ 1.14 6.00\\ 1.08 6.50\\ 1.00 7.20\\ 0.935 7.62\\ 0.858 8.39\\ 0.782 9.10\\ 0.705 9.72\\ 0.711 10.35\\ 0.653 11.21\\ 0.628 11.97\\
0.602 12.35\\ 0.538 12.73\\ 0.435 13.07\\ 0.378 13.31\\ 0.371 13.59\\ 0.378 14.07\\ 0.397 14.50\\
};
\addplot[iso] table[row sep=\\]{x y\\ 1.257 5.00\\ 1.15 6.00\\ 1.10 6.45\\ 1.02 7.30\\ 0.94 7.85\\ 0.87 8.50\\ 0.80 9.20\\ 0.74 9.70\\};
\addplot[iso] table[row sep=\\]{x y\\ 1.266 5.00\\ 1.17 6.00\\ 1.12 6.45\\ 1.07 6.95\\ 1.03 7.45\\ 0.96 8.15\\ 0.89 8.90\\ 0.83 9.45\\ 0.78 9.90\\ 0.75 10.20\\};
\addplot[isod] table[row sep=\\]{x y\\ 1.167 5.00\\ 1.06 6.00\\ 0.96 6.90\\ 0.87 7.70\\ 0.79 8.35\\ 0.72 8.85\\ 0.682 8.94\\};
\addplot[isod] table[row sep=\\]{x y\\ 1.175 5.00\\ 1.07 6.00\\ 0.97 6.90\\ 0.88 7.70\\ 0.80 8.35\\ 0.73 8.85\\ 0.69 8.98\\};
\addplot[isod] table[row sep=\\]{x y\\ 1.185 5.00\\ 1.09 6.00\\ 1.00 6.90\\ 0.92 7.60\\ 0.85 8.30\\ 0.78 9.00\\ 0.72 9.60\\ 0.68 10.00\\ 0.665 10.40\\ 0.645 10.90\\ 0.625 11.40\\ 0.60 11.80\\ 0.55 12.20\\ 0.47 12.55\\ 0.42 12.75\\};
\addplot[isodd] table[row sep=\\]{x y\\
-0.2 7.29\\ -0.195 7.31\\ -0.167 7.91\\ -0.135 8.67\\ -0.116 9.49\\ -0.103 10.16\\ -0.071 10.44\\ -0.039 11.06\\ 0.012 11.87\\ 0.038 12.35\\
0.089 12.83\\ 0.14 13.07\\ 0.192 13.14\\ 0.211 13.40\\ 0.23 13.78\\ 0.243 13.98\\ 0.25 14.05\\
};
\node[font=\fontsize{10.7}{12.8}\selectfont] at (axis cs:0.177,5.89) {NGC 188};
\node[anno] at (axis cs:0.953,10.92) {(m\textendash M)o = 11.3};
\node[anno] at (axis cs:0.953,11.41) {E(B\textendash V) = 0.04};
\node[anno] at (axis cs:0.953,11.90) {log (t/yr) = 9.85};
\end{axis}
\end{tikzpicture}
\end{document}
